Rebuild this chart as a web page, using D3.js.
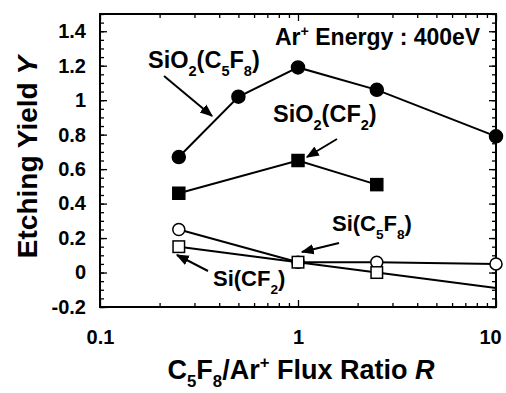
<!DOCTYPE html>
<html>
<head>
<meta charset="utf-8">
<script src="https://cdn.jsdelivr.net/npm/d3@7"></script>
<style>
  body { margin: 0; background: #fff; }
  text { font-family: "Liberation Sans", Arial, Helvetica, sans-serif; font-weight: bold; fill: #000; }
</style>
</head>
<body>
<div id="chart"></div>
<script>
// data
var xSiO2C5F8 = [0.25, 0.5, 1, 2.5, 10];
var ySiO2C5F8 = [0.67, 1.02, 1.19, 1.06, 0.79];
var xSiO2CF2 = [0.25, 1, 2.5];
var ySiO2CF2 = [0.46, 0.65, 0.51];
var xSiC5F8 = [0.25, 1, 2.5, 10];
var ySiC5F8 = [0.25, 0.06, 0.06, 0.05];
var xSiCF2 = [0.25, 1, 2.5, 10];
var ySiCF2 = [0.15, 0.06, 0.0, -0.09];
var markSiCF2 = [true, true, true, false];   // last point is only the line end
var yTicks = [-0.2, 0, 0.2, 0.4, 0.6, 0.8, 1, 1.2, 1.4];
var yTickLabels = ['-0.2', '0', '0.2', '0.4', '0.6', '0.8', '1', '1.2', '1.4'];
var xTicks = [0.1, 1, 10];
var xTickLabels = ['0.1', '1', '10'];

var width = 506, height = 393;
var margin = {top: 14, right: 10, bottom: 86, left: 100};

var svg = d3.select('#chart').append('svg')
  .attr('width', width)
  .attr('height', height);

var x = d3.scaleLog().domain([0.1, 10]).range([margin.left, width - margin.right]);
var y = d3.scaleLinear().domain([-0.2, 1.5]).range([height - margin.bottom, margin.top]);

var x0 = x.range()[0], x1 = x.range()[1];
var y0 = y.range()[0], y1 = y.range()[1];

// minor ticks
var yMinor = d3.range(-0.2, 1.5001, 0.05).map(function (v) { return +v.toFixed(2); });
var xMinor = [];
[0.1, 1].forEach(function (d) { for (var k = 2; k <= 9; k++) xMinor.push(d * k); });

function plainAxis(axis, pos, vals, size) {
  var g = svg.append('g').attr('transform', pos)
    .call(axis.tickValues(vals).tickSize(size).tickFormat(''));
  g.select('.domain').remove();
  g.selectAll('line').attr('stroke', '#000').attr('stroke-width', 1.3);
}
plainAxis(d3.axisLeft(y), 'translate(' + x0 + ',0)', yMinor, -4);
plainAxis(d3.axisRight(y), 'translate(' + x1 + ',0)', yMinor, -4);
plainAxis(d3.axisBottom(x), 'translate(0,' + y0 + ')', xMinor, -4);
plainAxis(d3.axisTop(x), 'translate(0,' + y1 + ')', xMinor, -4);
plainAxis(d3.axisRight(y), 'translate(' + x1 + ',0)', yTicks, -7);
plainAxis(d3.axisTop(x), 'translate(0,' + y1 + ')', xTicks, -7);

// main axes with labels
var gy = svg.append('g').attr('transform', 'translate(' + x0 + ',0)')
  .call(d3.axisLeft(y).tickValues(yTicks).tickSize(-7).tickPadding(14)
    .tickFormat(function (d, i) { return yTickLabels[i]; }));
var gx = svg.append('g').attr('transform', 'translate(0,' + y0 + ')')
  .call(d3.axisBottom(x).tickValues(xTicks).tickSize(-7).tickPadding(23)
    .tickFormat(function (d, i) { return xTickLabels[i]; }));
[gy, gx].forEach(function (g) {
  g.select('.domain').remove();
  g.selectAll('line').attr('stroke', '#000').attr('stroke-width', 1.3);
  g.selectAll('text').attr('font-size', 20).attr('font-family', null).attr('fill', '#000');
});
// last x label sits against the page edge
gx.selectAll('text').filter(function (d) { return d === 10; }).attr('dx', -6);

// frame
svg.append('rect')
  .attr('x', x0).attr('y', y1)
  .attr('width', x1 - x0).attr('height', y0 - y1)
  .attr('fill', 'none').attr('stroke', '#000').attr('stroke-width', 2);

// series
var line = d3.line().x(function (d) { return x(d[0]); }).y(function (d) { return y(d[1]); });

function series(xs, ys, shape, filled, marks) {
  var pts = xs.map(function (v, i) { return [v, ys[i]]; });
  svg.append('path').datum(pts)
    .attr('d', line).attr('fill', 'none')
    .attr('stroke', '#000').attr('stroke-width', 2);
  var shown = pts.filter(function (d, i) { return !marks || marks[i]; });
  var g = svg.append('g');
  if (shape === 'circle') {
    g.selectAll('circle').data(shown).enter().append('circle')
      .attr('cx', function (d) { return x(d[0]); })
      .attr('cy', function (d) { return y(d[1]); })
      .attr('r', filled ? 6.5 : 6)
      .attr('fill', filled ? '#000' : '#fff')
      .attr('stroke', '#000').attr('stroke-width', 1.5);
  } else {
    var s = filled ? 12 : 11.5;
    g.selectAll('rect').data(shown).enter().append('rect')
      .attr('x', function (d) { return x(d[0]) - s / 2; })
      .attr('y', function (d) { return y(d[1]) - s / 2; })
      .attr('width', s).attr('height', s)
      .attr('fill', filled ? '#000' : '#fff')
      .attr('stroke', '#000').attr('stroke-width', 1.5);
  }
}
series(xSiC5F8, ySiC5F8, 'circle', false);
series(xSiCF2, ySiCF2, 'square', false, markSiCF2);
series(xSiO2CF2, ySiO2CF2, 'square', true);
series(xSiO2C5F8, ySiO2C5F8, 'circle', true);

// rich text with sub/superscripts
function richText(px, py, parts, size, anchor, rotate, subDrop) {
  var drop = subDrop || 0.36;
  var t = svg.append('text')
    .attr('font-size', size)
    .attr('text-anchor', anchor || 'start')
    .attr('transform', 'translate(' + px + ',' + py + ')' + (rotate ? ' rotate(' + rotate + ')' : ''));
  var shift = 0;
  parts.forEach(function (p) {
    var ts = t.append('tspan').text(p.t);
    var target = p.sub ? size * drop : p.sup ? -size * 0.4 : 0;
    if (target !== shift) { ts.attr('dy', target - shift); shift = target; }
    if (p.sub || p.sup) ts.attr('font-size', size * 0.62);
    if (p.it) ts.attr('font-style', 'italic');
  });
  return t;
}

richText(275, 45, [{t: 'Ar'}, {t: '+', sup: true}, {t: ' Energy : 400eV'}], 23);
richText(148, 68, [{t: 'SiO'}, {t: '2', sub: true}, {t: '(C'}, {t: '5', sub: true}, {t: 'F'}, {t: '8', sub: true}, {t: ')'}], 23.5);
richText(273, 122, [{t: 'SiO'}, {t: '2', sub: true}, {t: '(CF'}, {t: '2', sub: true}, {t: ')'}], 23.5);
richText(332, 231, [{t: 'Si(C'}, {t: '5', sub: true}, {t: 'F'}, {t: '8', sub: true}, {t: ')'}], 22);
richText(213, 286, [{t: 'Si(CF'}, {t: '2', sub: true}, {t: ')'}], 22);

richText(301, 379, [{t: 'C'}, {t: '5', sub: true}, {t: 'F'}, {t: '8', sub: true}, {t: '/Ar'}, {t: '+', sup: true}, {t: ' Flux Ratio '}, {t: 'R', it: true}], 27, 'middle', 0, 0.3);
richText(37, 157, [{t: 'Etching Yield '}, {t: 'Y', it: true}], 28, 'middle', -90);

// arrows
var arrowsFrom = [[164, 76], [337, 139], [339, 243], [208, 271]];
var arrowsTo = [[212, 116], [307, 157], [302, 252], [177, 255]];
svg.append('defs').append('marker')
  .attr('id', 'head').attr('viewBox', '0 0 10 10')
  .attr('refX', 9).attr('refY', 5)
  .attr('markerWidth', 6.5).attr('markerHeight', 6.5)
  .attr('markerUnits', 'strokeWidth')
  .attr('orient', 'auto')
  .append('path').attr('d', 'M0,1 L10,5 L0,9 Z').attr('fill', '#000');
arrowsFrom.forEach(function (a, i) {
  svg.append('line')
    .attr('x1', a[0]).attr('y1', a[1])
    .attr('x2', arrowsTo[i][0]).attr('y2', arrowsTo[i][1])
    .attr('stroke', '#000').attr('stroke-width', 2)
    .attr('marker-end', 'url(#head)');
});
</script>
</body>
</html>
